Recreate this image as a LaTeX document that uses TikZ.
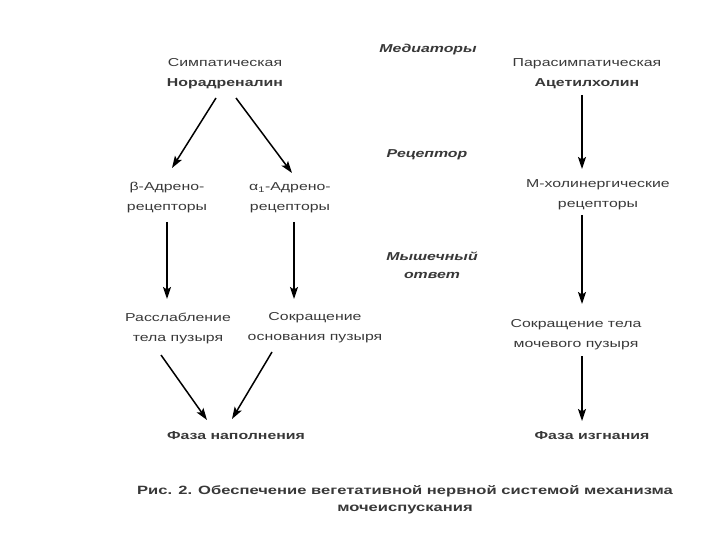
\documentclass[tikz,border=0pt]{standalone}
\usepackage{fontspec}
\setmainfont{Liberation Sans}[FakeStretch=1.38]
\usetikzlibrary{arrows.meta,calc}
\definecolor{txt}{HTML}{383838}
\begin{document}
\begin{tikzpicture}[x=1pt,y=-1pt,
  lbl/.style={inner sep=0pt,align=center,text=txt,font=\fontsize{11.5}{20}\selectfont},
  bl/.style={lbl,font=\fontsize{11.5}{20}\selectfont\bfseries},
  side/.style={lbl,font=\fontsize{11.5}{18}\selectfont\bfseries\itshape},
  arr/.style={draw=black,line width=1.5pt,-{Stealth[length=12pt,width=8pt,inset=2.5pt]}}]
\useasboundingbox (0,0) rectangle (720,540);
% side labels
\node[side] (med) at (428,50) {Медиаторы};
\node[side] (rec) at (427,155) {Рецептор};
\node[side] (mus) at (432,265) {Мышечный\\ответ};
% left part
\node[lbl] (symp) at (225,74) {Симпатическая\\\textbf{Норадреналин}};
\node[lbl] (beta) at (167,198) {β-Адрено-\\рецепторы};
\node[lbl] (alpha) at (290,198) {α\textsubscript{1}-Адрено-\\рецепторы};
\node[lbl] (rel) at (178,328) {Расслабление\\тела пузыря};
\node[lbl] (con) at (315,328) {Сокращение\\основания пузыря};
\node[bl] (fill) at (236,436) {Фаза наполнения};
% right part
\node[lbl] (para) at (587,74) {Парасимпатическая\\\textbf{Ацетилхолин}};
\node[lbl] (mch) at (598,195) {М-холинергические\\рецепторы};
\node[lbl] (conb) at (576,335) {Сокращение тела\\мочевого пузыря};
\node[bl] (expl) at (592,436) {Фаза изгнания};
% caption
\node[bl,font=\fontsize{12}{17}\selectfont\bfseries] (cap) at (405,500) {Рис. 2. Обеспечение вегетативной нервной системой механизма\\мочеиспускания};
% arrows
\draw[arr] ($(symp.center)+(-9,24)$) -- ($(beta.center)+(5,-30)$);
\draw[arr] ($(symp.center)+(11,24)$) -- ($(alpha.center)+(2,-25)$);
\draw[arr] ($(beta.center)+(0,24)$) -- ($(rel.center)+(-11,-29)$);
\draw[arr] ($(alpha.center)+(4,24)$) -- ($(con.center)+(-21,-29)$);
\draw[arr] ($(rel.center)+(-17,27)$) -- ($(fill.center)+(-29,-16)$);
\draw[arr] ($(con.center)+(-43,24)$) -- ($(fill.center)+(-4,-17)$);
\draw[arr] ($(para.center)+(-5,21)$) -- ($(mch.center)+(-16,-26)$);
\draw[arr] ($(mch.center)+(-16,20)$) -- ($(conb.center)+(6,-31)$);
\draw[arr] ($(conb.center)+(6,21)$) -- ($(expl.center)+(-10,-15)$);
\end{tikzpicture}
\end{document}
